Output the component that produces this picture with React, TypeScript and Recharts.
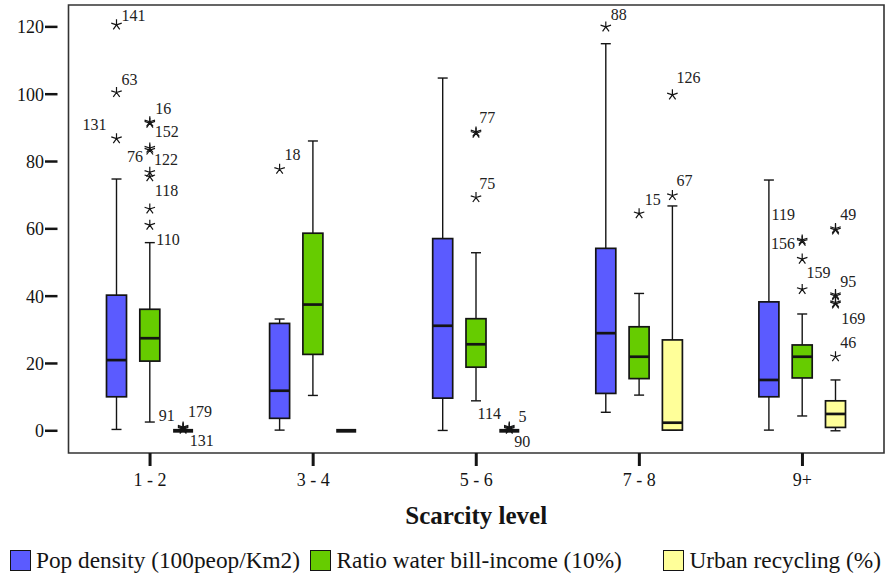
import React from 'react';
import { ComposedChart, Bar, XAxis, YAxis, ReferenceArea, Legend, Label } from 'recharts';

const Y_MIN = -6.6;
const Y_MAX = 126.5;
const yTicks = [0, 20, 40, 60, 80, 100, 120];

const categories = ['1 - 2', '3 - 4', '5 - 6', '7 - 8', '9+'];

// [lower whisker, Q1, median, Q3, upper whisker]
const popDensity = [
  [0.4, 10.1, 21.0, 40.3, 74.8],
  [0.2, 3.7, 11.9, 31.9, 33.2],
  [0.1, 9.7, 31.2, 57.1, 104.8],
  [5.5, 11.1, 29.0, 54.2, 115.0],
  [0.2, 10.1, 15.1, 38.3, 74.5],
];
const waterRatio = [
  [2.6, 20.7, 27.5, 36.1, 55.9],
  [10.5, 22.7, 37.5, 58.7, 86.1],
  [8.9, 18.9, 25.7, 33.3, 52.9],
  [10.6, 15.5, 22.0, 30.9, 40.8],
  [4.4, 15.7, 22.0, 25.5, 34.7],
];
const urbanRecycling = [
  [0, 0, 0, 0, 0],
  [0, 0, 0, 0, 0],
  [0, 0, 0, 0, 0],
  [0.2, 0.2, 2.4, 27.0, 66.8],
  [0, 1.0, 5.0, 8.9, 15.1],
];

type Outlier = { cat: string; v: number; label: string };

const popOutliers: Outlier[] = [
  { cat: '1 - 2', v: 120.6, label: '141' },
  { cat: '1 - 2', v: 100.5, label: '63' },
  { cat: '1 - 2', v: 86.8, label: '131' },
  { cat: '3 - 4', v: 77.7, label: '18' },
  { cat: '7 - 8', v: 120.0, label: '88' },
];
const waterOutliers: Outlier[] = [
  { cat: '1 - 2', v: 91.8, label: '16' },
  { cat: '1 - 2', v: 91.4, label: '' },
  { cat: '1 - 2', v: 84.0, label: '152' },
  { cat: '1 - 2', v: 83.4, label: '' },
  { cat: '1 - 2', v: 76.8, label: '122' },
  { cat: '1 - 2', v: 75.5, label: '76' },
  { cat: '1 - 2', v: 65.9, label: '118' },
  { cat: '1 - 2', v: 61.1, label: '110' },
  { cat: '5 - 6', v: 88.8, label: '77' },
  { cat: '5 - 6', v: 88.4, label: '' },
  { cat: '5 - 6', v: 69.3, label: '75' },
  { cat: '7 - 8', v: 64.5, label: '15' },
  { cat: '9+', v: 56.7, label: '119' },
  { cat: '9+', v: 56.3, label: '156' },
  { cat: '9+', v: 51.0, label: '' },
  { cat: '9+', v: 42.0, label: '159' },
];
const urbanOutliers: Outlier[] = [
  { cat: '1 - 2', v: 0.5, label: '179' },
  { cat: '1 - 2', v: 0.8, label: '91' },
  { cat: '1 - 2', v: 1.1, label: '131' },
  { cat: '5 - 6', v: 0.5, label: '5' },
  { cat: '5 - 6', v: 0.8, label: '114' },
  { cat: '5 - 6', v: 1.1, label: '90' },
  { cat: '7 - 8', v: 99.8, label: '126' },
  { cat: '7 - 8', v: 69.9, label: '67' },
  { cat: '9+', v: 60.1, label: '49' },
  { cat: '9+', v: 59.7, label: '' },
  { cat: '9+', v: 40.5, label: '95' },
  { cat: '9+', v: 40.1, label: '' },
  { cat: '9+', v: 38.1, label: '169' },
  { cat: '9+', v: 37.7, label: '' },
  { cat: '9+', v: 22.0, label: '46' },
];

// label placement relative to its star: [dx, dy, anchor]
const labelPlacement: Record<string, [number, number, string]> = {
  'pop:141': [5, -4, 'start'],
  'pop:63': [5, -8, 'start'],
  'pop:131': [-10, -9, 'end'],
  'pop:18': [5, -9.5, 'start'],
  'pop:88': [5, -6.5, 'start'],
  'water:16': [5.5, -7.4, 'start'],
  'water:152': [5, -11, 'start'],
  'water:122': [4.3, -7.3, 'start'],
  'water:76': [-6.7, -14.7, 'end'],
  'water:118': [5, -12.5, 'start'],
  'water:110': [6.5, 19.4, 'start'],
  'water:77': [3.3, -9, 'start'],
  'water:75': [3.3, -8.6, 'start'],
  'water:15': [5.7, -8.2, 'start'],
  'water:119': [-7.3, -19.5, 'end'],
  'water:156': [-7.3, 8.2, 'end'],
  'water:159': [4.4, -11.4, 'start'],
  'urban:179': [5, -12, 'start'],
  'urban:91': [-8.3, -7.5, 'end'],
  'urban:131': [6.7, 19, 'start'],
  'urban:5': [9.3, -7, 'start'],
  'urban:114': [-8.3, -9, 'end'],
  'urban:90': [5, 20, 'start'],
  'urban:126': [4, -12, 'start'],
  'urban:67': [4, -9.5, 'start'],
  'urban:49': [4.7, -8.5, 'start'],
  'urban:95': [4.7, -7.4, 'start'],
  'urban:169': [5.7, 21.5, 'start'],
  'urban:46': [4.7, -8.7, 'start'],
};

const tableData = categories.map((cat) => ({
  cat,
  popSpan: [Y_MIN, Y_MAX],
  waterSpan: [Y_MIN, Y_MAX],
  urbanSpan: [Y_MIN, Y_MAX],
}));

const SERIF = "'Liberation Serif', 'Times New Roman', Times, 'DejaVu Serif', serif";
const INK = '#141414';

const Star = ({ cx, cy }: { cx: number; cy: number }) => {
  const r = 5.5;
  const segs = [0, 1, 2, 3, 4].map((i) => {
    const a = ((-90 + 72 * i) * Math.PI) / 180;
    return `M${cx},${cy}L${cx + r * Math.cos(a)},${cy + r * Math.sin(a)}`;
  });
  return <path d={segs.join('')} stroke={INK} strokeWidth={1.2} fill="none" />;
};

const makeShape = (stats: number[][], outliers: Outlier[], key: string, fill: string) => (props: any) => {
  const { x, y, width, height, payload } = props;
  const idx = categories.indexOf(payload.cat);
  const k = height / (Y_MAX - Y_MIN);
  const py = (v: number) => y + (Y_MAX - v) * k;
  const [lo, q1, med, q3, hi] = stats[idx];
  const cx = x + width / 2;
  const cap = 5;
  const collapsed = q1 === q3 && lo === hi;
  const outs = outliers.filter((o) => o.cat === payload.cat);
  return (
    <g>
      {!collapsed && (
        <g stroke={INK} strokeWidth={1.4}>
          <line x1={cx} x2={cx} y1={py(hi)} y2={py(lo)} />
          <line x1={cx - cap} x2={cx + cap} y1={py(hi)} y2={py(hi)} />
          <line x1={cx - cap} x2={cx + cap} y1={py(lo)} y2={py(lo)} />
          <rect x={x} y={py(q3)} width={width} height={py(q1) - py(q3)} fill={fill} strokeWidth={1.7} />
          <line x1={x} x2={x + width} y1={py(med)} y2={py(med)} strokeWidth={2.7} />
        </g>
      )}
      {collapsed && (
        <line x1={x} x2={x + width} y1={py(med)} y2={py(med)} stroke={INK} strokeWidth={3.8} />
      )}
      {outs.map((o, i) => {
        const sy = py(o.v);
        const pl = labelPlacement[`${key}:${o.label}`];
        return (
          <g key={i}>
            <Star cx={cx} cy={sy} />
            {o.label && pl && (
              <text
                x={cx + pl[0]}
                y={sy + pl[1]}
                textAnchor={pl[2] as any}
                style={{ fontFamily: SERIF }}
                fontSize={16}
                fill="#222"
              >
                {o.label}
              </text>
            )}
          </g>
        );
      })}
    </g>
  );
};

const LEGEND_LEFT = [9.5, 310, 663];

const renderLegend = (props: any) => {
  const payload = props.payload || [];
  return (
    <div style={{ position: 'relative', width: 888, height: 575, pointerEvents: 'none' }}>
      {payload.map((p: any, i: number) => (
        <div key={i}>
          <div
            style={{
              position: 'absolute',
              left: LEGEND_LEFT[i],
              top: 550,
              width: 21,
              height: 21,
              boxSizing: 'border-box',
              border: `1.5px solid ${INK}`,
              background: p.color,
            }}
          />
          <span
            style={{
              position: 'absolute',
              left: LEGEND_LEFT[i] + 26.5,
              top: 549,
              fontFamily: SERIF,
              fontSize: 23.3,
              lineHeight: '23px',
              whiteSpace: 'nowrap',
              color: INK,
            }}
          >
            {p.value}
          </span>
        </div>
      ))}
    </div>
  );
};

const COLORS = { pop: '#5b5bff', water: '#66cc00', urban: '#ffff99' };

export default function App() {
  return (
    <div style={{ position: 'absolute', left: 0, top: 0, width: 888, height: 575, overflow: 'hidden', background: '#fff', fontFamily: SERIF }}>
      <ComposedChart
        width={900}
        height={575}
        data={tableData}
        margin={{ top: 5, right: 5, bottom: 0, left: 0 }}
        barSize={20}
        barGap={13.3}
        style={{ fontFamily: SERIF }}
      >
        <ReferenceArea y1={Y_MIN} y2={Y_MAX} fill="none" stroke="#333" strokeWidth={1.6} ifOverflow="visible" />
        <XAxis
          dataKey="cat"
          type="category"
          height={122}
          padding={{ left: 11, right: 11 }}
          axisLine={false}
          tickLine={{ stroke: INK, strokeWidth: 3 }}
          tickSize={13}
          tickMargin={7}
          tick={{ fontSize: 18, style: { fontFamily: SERIF }, fill: INK }}
          interval={0}
        >
          <Label
            content={(p: any) => {
              const vb = p.viewBox || {};
              return (
                <text
                  x={vb.x + vb.width / 2}
                  y={vb.y + 71}
                  textAnchor="middle"
                  style={{ fontFamily: SERIF }}
                  fontWeight="bold"
                  fontSize={25}
                  fill={INK}
                >
                  Scarcity level
                </text>
              );
            }}
          />
        </XAxis>
        <YAxis
          type="number"
          domain={[Y_MIN, Y_MAX]}
          ticks={yTicks}
          width={57.5}
          axisLine={false}
          tickLine={{ stroke: INK, strokeWidth: 2.5 }}
          tickSize={12.5}
          tickMargin={1}
          tick={{ fontSize: 18, style: { fontFamily: SERIF }, fill: INK }}
        />
        <Legend
          layout="horizontal"
          verticalAlign="middle"
          align="center"
          wrapperStyle={{ left: 0, top: 0, width: 888, height: 575, pointerEvents: 'none' }}
          content={renderLegend}
        />
        <Bar
          dataKey="popSpan"
          name="Pop density (100peop/Km2)"
          fill={COLORS.pop}
          isAnimationActive={false}
          shape={makeShape(popDensity, popOutliers, 'pop', COLORS.pop)}
        />
        <Bar
          dataKey="waterSpan"
          name="Ratio water bill-income (10%)"
          fill={COLORS.water}
          isAnimationActive={false}
          shape={makeShape(waterRatio, waterOutliers, 'water', COLORS.water)}
        />
        <Bar
          dataKey="urbanSpan"
          name="Urban recycling (%)"
          fill={COLORS.urban}
          isAnimationActive={false}
          shape={makeShape(urbanRecycling, urbanOutliers, 'urban', COLORS.urban)}
        />
      </ComposedChart>
    </div>
  );
}
